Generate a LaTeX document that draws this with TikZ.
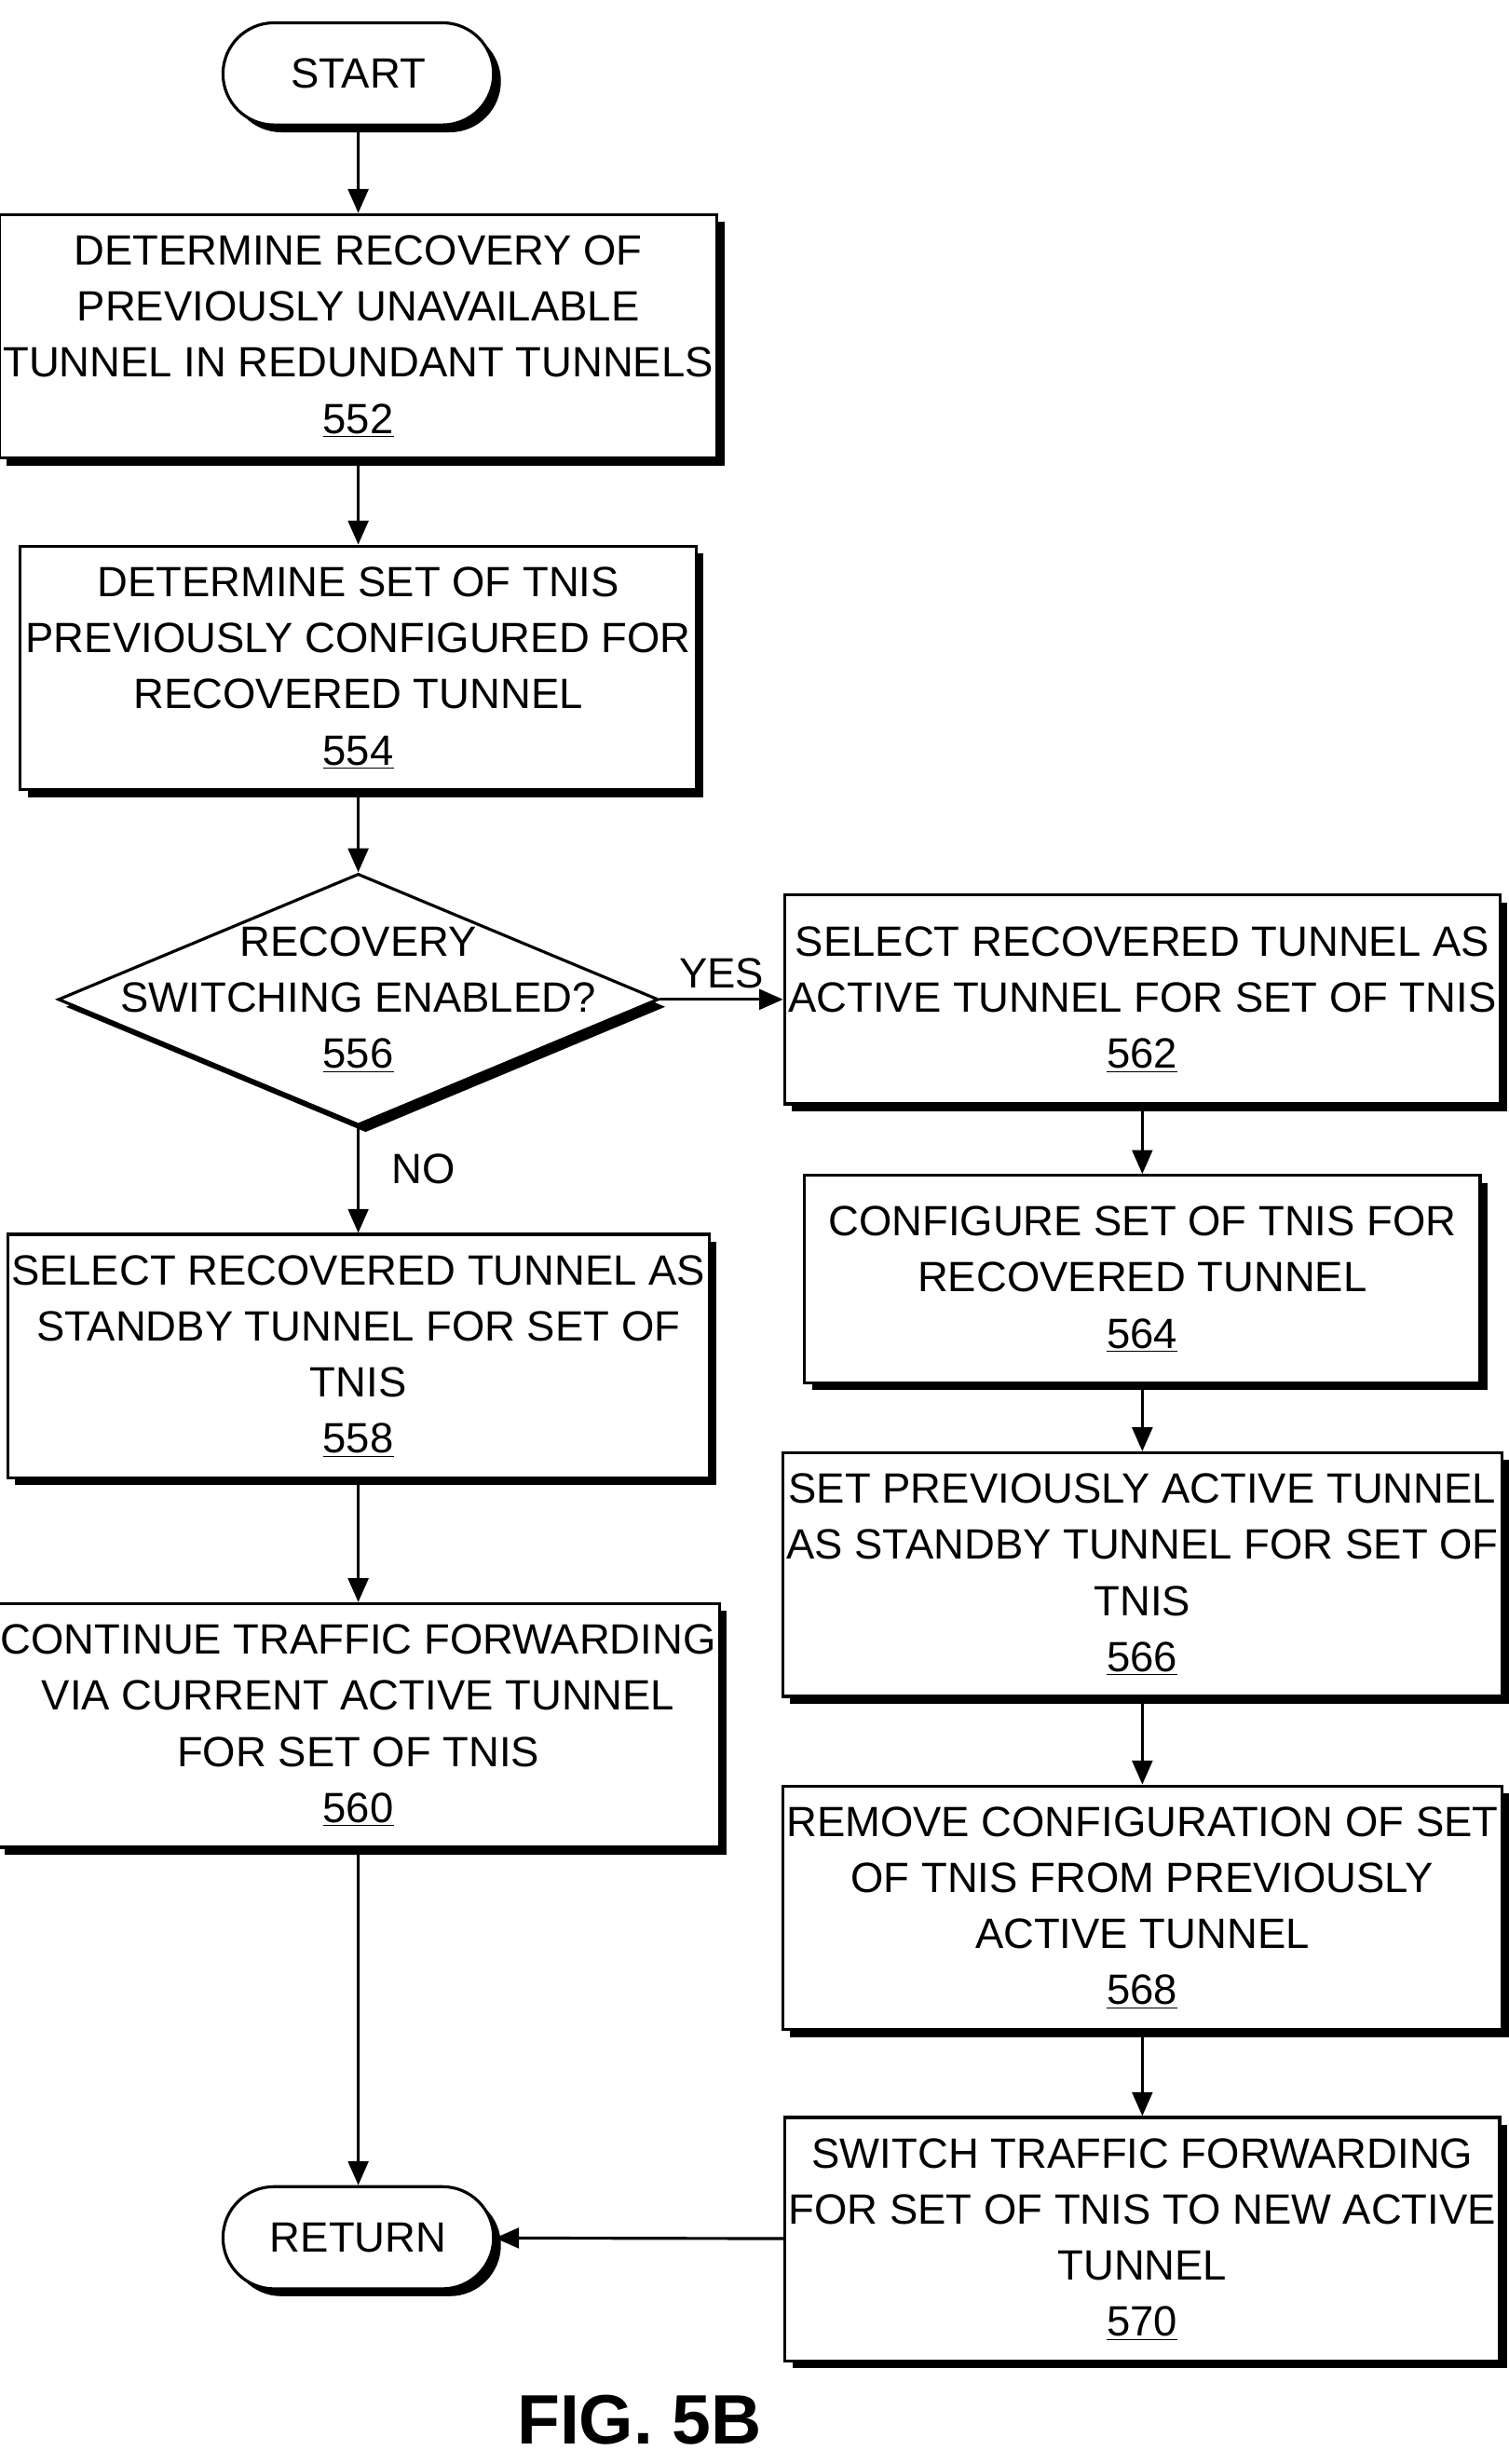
\documentclass[tikz,border=0pt]{standalone}
\usepackage{fontspec}
\setmainfont{Liberation Sans}
\usetikzlibrary{shapes.geometric,shapes.misc,arrows.meta,shadows}
\tikzset{
  shade box/.style={drop shadow={shadow xshift=4pt, shadow yshift=-4pt, fill=black, opacity=1}},
  procbox/.style={draw, line width=1.6pt, fill=white, shade box, align=center,
    minimum width=12.9cm, minimum height=4.65cm, inner sep=2pt},
  term/.style={draw, line width=1.6pt, fill=white, shade box, rounded rectangle,
    minimum width=5.4cm, minimum height=1.95cm},
  flow/.style={line width=1.6pt, -{Triangle[width=11pt,length=13pt]}},
  every node/.style={font=\fontsize{23}{30.5}\selectfont}
}
\begin{document}
\begin{tikzpicture}[x=0.03cm, y=-0.03cm]
  \useasboundingbox (0,0) rectangle (960,1568);

  % left column
  \node[term] (start) at (228,47) {START};
  \node[procbox] (s552) at (228,214) {DETERMINE RECOVERY OF\\PREVIOUSLY UNAVAILABLE\\TUNNEL IN REDUNDANT TUNNELS\\\underline{552}};
  \node[procbox] (s554) at (228,425) {DETERMINE SET OF TNIS\\PREVIOUSLY CONFIGURED FOR\\RECOVERED TUNNEL\\\underline{554}};
  \node[draw, line width=1.6pt, fill=white, shade box, diamond, inner sep=0,
    minimum width=11.46cm, minimum height=4.8cm] (d556) at (228,636) {};
  \node[align=center] (t556) at (228,636) {RECOVERY\\SWITCHING ENABLED?\\\underline{556}};
  \node[procbox] (s558) at (228,863) {SELECT RECOVERED TUNNEL AS\\STANDBY TUNNEL FOR SET OF\\TNIS\\\underline{558}};
  \node[procbox] (s560) at (228,1098) {CONTINUE TRAFFIC FORWARDING\\VIA CURRENT ACTIVE TUNNEL\\FOR SET OF TNIS\\\underline{560}};
  \node[term] (ret) at (228,1424) {RETURN};

  % right column
  \node[procbox, minimum height=3.99cm] (s562) at (727,636) {SELECT RECOVERED TUNNEL AS\\ACTIVE TUNNEL FOR SET OF TNIS\\\underline{562}};
  \node[procbox, minimum height=3.96cm] (s564) at (727,814) {CONFIGURE SET OF TNIS FOR\\RECOVERED TUNNEL\\\underline{564}};
  \node[procbox] (s566) at (727,1002) {SET PREVIOUSLY ACTIVE TUNNEL\\AS STANDBY TUNNEL FOR SET OF\\TNIS\\\underline{566}};
  \node[procbox] (s568) at (727,1214) {REMOVE CONFIGURATION OF SET\\OF TNIS FROM PREVIOUSLY\\ACTIVE TUNNEL\\\underline{568}};
  \node[procbox] (s570) at (727,1425) {SWITCH TRAFFIC FORWARDING\\FOR SET OF TNIS TO NEW ACTIVE\\TUNNEL\\\underline{570}};

  % connectors
  \draw[flow] (start) -- (s552);
  \draw[flow] (s552) -- (s554);
  \draw[flow] (s554) -- (d556);
  \draw[flow] (d556) -- node[right, pos=0.4, xshift=14pt] {NO} (s558);
  \draw[flow] (s558) -- (s560);
  \draw[flow] (s560) -- (ret);
  \draw[flow] (d556.east) -- node[above, yshift=2pt] {YES} (s562);
  \draw[flow] (s562) -- (s564);
  \draw[flow] (s564) -- (s566);
  \draw[flow] (s566) -- (s568);
  \draw[flow] (s568) -- (s570);
  \draw[flow] (s570) -- (ret);

  \node[font=\bfseries\fontsize{38}{44}\selectfont] (fig) at (407,1540) {FIG. 5B};
\end{tikzpicture}
\end{document}
